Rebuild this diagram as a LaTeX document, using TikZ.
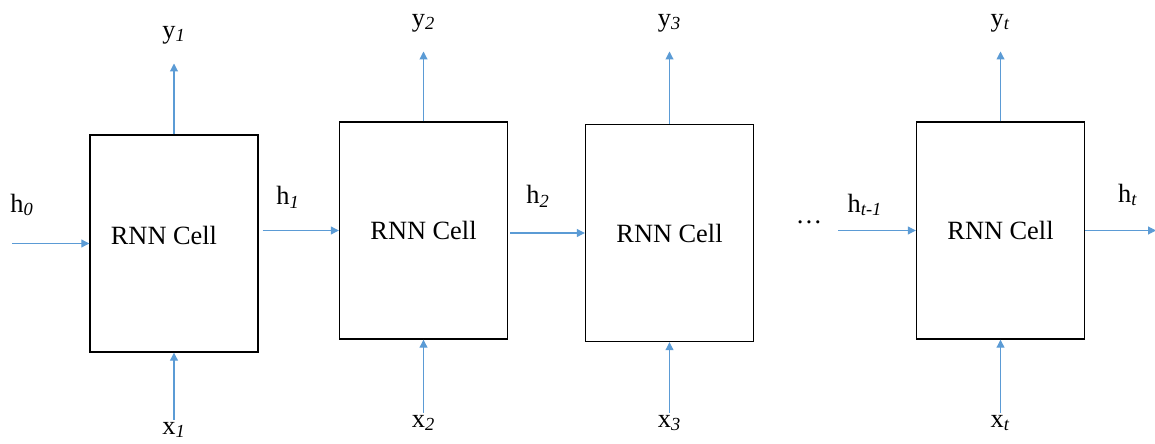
\documentclass[tikz,border=0pt]{standalone}
\usepackage{fontspec}
\setmainfont{Liberation Serif}
\usetikzlibrary{arrows.meta}
\definecolor{flowblue}{RGB}{91,155,213}
\tikzset{
  cell/.style={draw, line width=0.8pt, minimum width=3.36cm, minimum height=4.34cm, inner sep=0pt},
  flow/.style={draw=flowblue, line width=0.6pt, -{Triangle[length=4.5pt,width=4.5pt]}},
  lbl/.style={inner sep=1pt}
}
\begin{document}
\begin{tikzpicture}[font=\fontsize{15}{18}\selectfont]
        \useasboundingbox (0,0) rectangle (23.1,8.86);
        % cells
        \node[cell] (c1) at (3.48,3.99) {\hspace*{-0.4cm}\raisebox{0.34cm}{RNN Cell}};
        \node[cell] (c2) at (8.47,4.25) {RNN Cell};
        \node[cell] (c3) at (13.39,4.20) {RNN Cell};
        \node[cell] (c4) at (20.01,4.25) {RNN Cell};

        % outputs
        \node[lbl] (y1) at (3.48,8.16) {y\textsubscript{\textit{1}}};
        \node[lbl] (y2) at (8.47,8.40) {y\textsubscript{\textit{2}}};
        \node[lbl] (y3) at (13.39,8.40) {y\textsubscript{\textit{3}}};
        \node[lbl] (yt) at (20.01,8.40) {y\textsubscript{\textit{t}}};
        \draw[flow, shorten >=0.35cm] (c1.north) -- (y1.south);
        \draw[flow, shorten >=0.35cm] (c2.north) -- (y2.south);
        \draw[flow, shorten >=0.35cm] (c3.north) -- (y3.south);
        \draw[flow, shorten >=0.35cm] (c4.north) -- (yt.south);

        % inputs
        \node[lbl] (x1) at (3.48,0.26) {x\textsubscript{\textit{1}}};
        \node[lbl] (x2) at (8.47,0.40) {x\textsubscript{\textit{2}}};
        \node[lbl] (x3) at (13.39,0.40) {x\textsubscript{\textit{3}}};
        \node[lbl] (xt) at (20.01,0.40) {x\textsubscript{\textit{t}}};
        \draw[flow] (x1.north) -- (c1.south);
        \draw[flow] (x2.north) -- (c2.south);
        \draw[flow] (x3.north) -- (c3.south);
        \draw[flow] (xt.north) -- (c4.south);

        % hidden states
        \coordinate (h0in) at (0.24,3.99);
        \coordinate (hin) at (16.76,4.25);
        \coordinate (hout) at (23.12,4.25);
        \draw[flow] (h0in) -- (c1.west);
        \draw[flow, shorten <=0.08cm] (c1.east |- c2.west) -- (c2.west);
        \draw[flow, shorten <=0.04cm] (c2.east |- c3.west) -- (c3.west);
        \draw[flow] (hin) -- (c4.west);
        \draw[flow] (c4.east) -- (hout);
        \node[lbl] (h0) at (0.44,4.76) {h\textsubscript{\textit{0}}};
        \node[lbl] (h1) at (5.76,4.92) {h\textsubscript{\textit{1}}};
        \node[lbl] (h2) at (10.76,4.94) {h\textsubscript{\textit{2}}};
        \node[lbl] (dots) at (16.18,4.42) {\dots};
        \node[lbl] (htm) at (17.30,4.76) {h\textsubscript{\textit{t-1}}};
        \node[lbl] (ht) at (22.56,4.96) {h\textsubscript{\textit{t}}};
\end{tikzpicture}
\end{document}
